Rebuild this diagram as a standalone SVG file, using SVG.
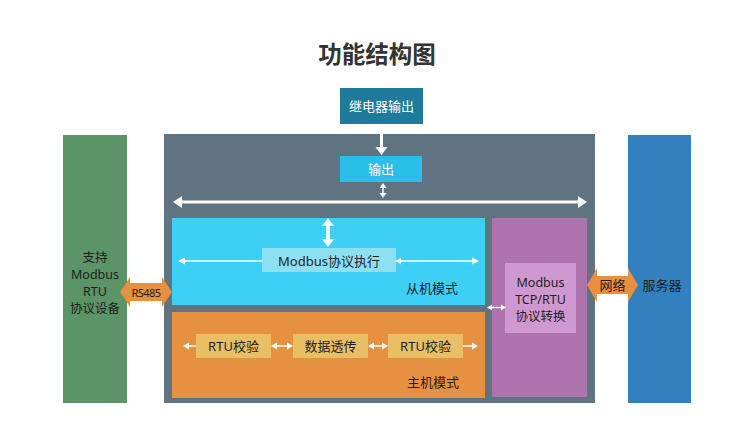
<svg xmlns="http://www.w3.org/2000/svg" width="750" height="441" viewBox="0 0 750 441">
<style>
text{font-family:"Noto Sans","Noto Sans CJK SC",sans-serif;font-size:13px;text-anchor:middle;dominant-baseline:central;fill:#1e1e1e}
.w{fill:#ffffff}
.m{font-size:12.5px}
.wh{fill:#ffffff}
</style>
<rect width="750" height="441" fill="#ffffff"/>
<text x="377" y="54" style="font-size:23.5px;font-weight:bold;fill:#333">功能结构图</text>

<g id="relay">
<rect x="340" y="88" width="83" height="36" fill="#1f7b9b"/>
<text x="381.5" y="106" class="w">继电器输出</text>
</g>

<g id="main">
<rect x="164" y="134" width="431" height="269" fill="#5f7480"/>
</g>

<g id="output">
<rect x="340" y="156" width="82" height="26" fill="#29bfe6"/>
<text x="381" y="169" class="w">输出</text>
</g>

<g id="slave">
<rect x="172" y="218" width="313" height="87" fill="#3dcff6"/>
<text x="432" y="288">从机模式</text>
</g>
<g id="modbus-exec">
<rect x="262" y="248" width="134" height="24" fill="#8de0f2"/>
<text x="329" y="261">Modbus协议执行</text>
</g>

<g id="master">
<rect x="172" y="312" width="313" height="86" fill="#e69142"/>
<text x="433" y="382">主机模式</text>
</g>
<g id="rtu1">
<rect x="196" y="334" width="75" height="24" fill="#e8bf64"/>
<text x="233.5" y="346">RTU校验</text>
</g>
<g id="transfer">
<rect x="293" y="334" width="75" height="24" fill="#e8bf64"/>
<text x="330.5" y="346">数据透传</text>
</g>
<g id="rtu2">
<rect x="388" y="334" width="75" height="24" fill="#e8bf64"/>
<text x="425.5" y="346">RTU校验</text>
</g>

<g id="convert">
<rect x="492" y="218" width="95" height="179" fill="#ae72ad"/>
<rect x="505" y="263" width="71" height="70" fill="#cf98d1"/>
<text x="540.5" y="282" class="m">Modbus</text>
<text x="540.5" y="299" class="m">TCP/RTU</text>
<text x="540.5" y="316" class="m">协议转换</text>
</g>

<g id="device">
<rect x="63" y="135" width="64" height="268" fill="#5a9467"/>
<text x="95" y="257" class="m">支持</text>
<text x="95" y="274" class="m">Modbus</text>
<text x="95" y="291" class="m">RTU</text>
<text x="95" y="308" class="m">协议设备</text>
</g>

<g id="server">
<rect x="628" y="135" width="63" height="268" fill="#3380bf"/>
<text x="662" y="285">服务器</text>
</g>

<g id="connectors">
<path d="M381.5 124 V148" stroke="#fff" stroke-width="3"/>
<path d="M375.5 147 L387.5 147 L381.5 155 Z" class="wh"/>
<path d="M383 187 V194" stroke="#fff" stroke-width="1.5"/>
<path d="M379.5 188 L386.5 188 L383 183 Z" class="wh"/>
<path d="M379.5 193 L386.5 193 L383 198 Z" class="wh"/>
<path d="M180 202 H580" stroke="#fff" stroke-width="3"/>
<path d="M182 196 L182 208 L173 202 Z" class="wh"/>
<path d="M578 196 L578 208 L587 202 Z" class="wh"/>
<path d="M328 225 V240" stroke="#fff" stroke-width="3.5"/>
<path d="M322 226 L334 226 L328 218 Z" class="wh"/>
<path d="M322 239 L334 239 L328 247 Z" class="wh"/>
<path d="M183 261 H262" stroke="#fff" stroke-width="1.5"/>
<path d="M185 257.5 L185 264.5 L178 261 Z" class="wh"/>
<path d="M396 261 H473" stroke="#fff" stroke-width="1.5"/>
<path d="M401 257.5 L401 264.5 L396 261 Z" class="wh"/>
<path d="M472 257.5 L472 264.5 L479 261 Z" class="wh"/>
<g stroke="#fff" stroke-width="1.5">
<path d="M188 346 H196"/><path d="M275 346 H289"/><path d="M372 346 H384"/><path d="M463 346 H473"/>
</g>
<path d="M189 342.5 L189 349.5 L183 346 Z" class="wh"/>
<path d="M277 342.5 L277 349.5 L271 346 Z" class="wh"/>
<path d="M287 342.5 L287 349.5 L293 346 Z" class="wh"/>
<path d="M374 342.5 L374 349.5 L368 346 Z" class="wh"/>
<path d="M382 342.5 L382 349.5 L388 346 Z" class="wh"/>
<path d="M472 342.5 L472 349.5 L478 346 Z" class="wh"/>
<path d="M491 307.5 H502" stroke="#fff" stroke-width="1.5"/>
<path d="M492 304.5 L492 310.5 L487 307.5 Z" class="wh"/>
<path d="M501 304.5 L501 310.5 L506 307.5 Z" class="wh"/>
<path d="M120 292 L130 277 L130 283 L162 283 L162 277 L172 292 L162 307 L162 301 L130 301 L130 307 Z" fill="#e8903f"/>
<text x="146" y="292" style="font-size:11px;letter-spacing:-0.6px">RS485</text>
<path d="M587 285 L597 268 L597 276 L628 276 L628 268 L638 285 L628 302 L628 294 L597 294 L597 302 Z" fill="#e8903f"/>
<text x="612.5" y="285">网络</text>
</g>
</svg>
